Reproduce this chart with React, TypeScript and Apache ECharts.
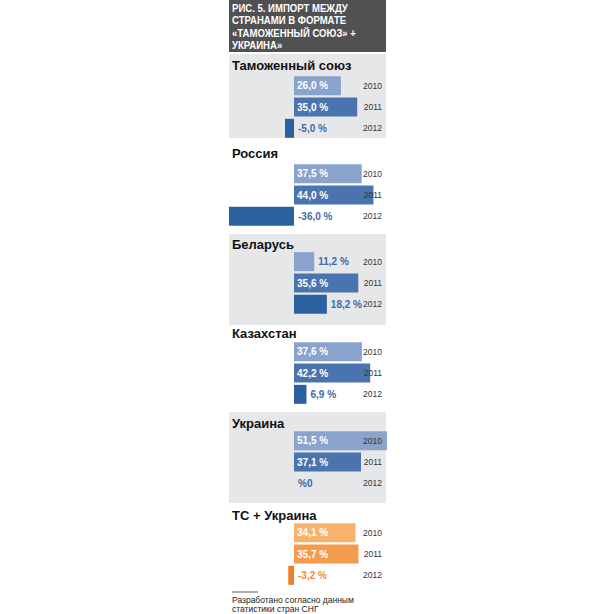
import React, { useEffect, useRef } from "react";
import * as echarts from "echarts";

const titleText = "РИС. 5. ИМПОРТ МЕЖДУ\nСТРАНАМИ В ФОРМАТЕ\n«ТАМОЖЕННЫЙ СОЮЗ» +\nУКРАИНА»";
const categories = ["Таможенный союз", "Россия", "Беларусь", "Казахстан", "Украина", "ТС + Украина"];
const years = ["2010", "2011", "2012"];
const values2010 = [26.0, 37.5, 11.2, 37.6, 51.5, 34.1];
const values2011 = [35.0, 44.0, 35.6, 42.2, 37.1, 35.7];
const values2012 = [-5.0, -36.0, 18.2, 6.9, 0, -3.2];
const footerText = "Разработано согласно данным\nстатистики стран СНГ";

const FONT = "'Liberation Sans', Arial, sans-serif";
const blueColors = ["#8aa3cc", "#4a74ae", "#2a62a0"];
const orangeColors = ["#f7b36d", "#f49c4e", "#ef7d2a"];
const blueLabel = "#3d6ba8";
const orangeLabel = "#ee8a40";

const panelTops = [54, 138, 234, 325, 412, 503];
const panelBottoms = [138, 234, 325, 412, 503, 590];
const titleY = [65, 153, 244, 333, 423, 515];
const gridTops = [75, 163, 251, 341, 430, 522];

function fmt(v: number): string {
  if (v === 0) return "%0";
  return v.toFixed(1).replace(".", ",") + " %";
}

export default function App() {
  const ref = useRef<HTMLDivElement>(null);
  useEffect(() => {
    document.body.style.margin = "0";
    const chart = echarts.init(ref.current!, null, { renderer: "svg" });
    const grids: any[] = [];
    const xAxes: any[] = [];
    const yAxes: any[] = [];
    const series: any[] = [];
    const graphics: any[] = [];

    graphics.push({
      type: "rect",
      shape: { x: 229, y: 0, width: 157, height: 52 },
      style: { fill: "#515151" },
      silent: true,
    });
    graphics.push({
      type: "text",
      x: 232,
      y: 2,
      scaleX: 0.87,
      style: {
        text: titleText,
        fill: "#ffffff",
        font: `bold 11px ${FONT}`,
        lineHeight: 12.5,
      },
    });

    categories.forEach((cat, i) => {
      if (i % 2 === 0) {
        graphics.push({
          type: "rect",
          shape: { x: 229, y: panelTops[i], width: 157, height: panelBottoms[i] - panelTops[i] },
          style: { fill: "#e6e7e8" },
          silent: true,
          z: -10,
        });
      }
      graphics.push({
        type: "text",
        x: 232,
        y: titleY[i],
        style: {
          text: cat,
          fill: "#111111",
          font: `bold 13px ${FONT}`,
          textVerticalAlign: "middle",
        },
      });

      const isOrange = i === categories.length - 1;
      const colors = isOrange ? orangeColors : blueColors;
      const outColor = isOrange ? orangeLabel : blueLabel;
      const vals = [values2010[i], values2011[i], values2012[i]];

      grids.push({ left: 229, width: 158, top: gridTops[i], height: 64 });
      xAxes.push({ type: "value", gridIndex: i, min: -36, max: 51.5, show: false });
      yAxes.push({
        type: "category",
        gridIndex: i,
        data: years,
        inverse: true,
        position: "right",
        z: 10,
        axisLine: { show: false },
        axisTick: { show: false },
        splitLine: { show: false },
        axisLabel: {
          inside: true,
          margin: 5,
          fontSize: 8.5,
          color: "#333333",
          fontFamily: FONT,
        },
      });
      series.push({
        type: "bar",
        xAxisIndex: i,
        yAxisIndex: i,
        barWidth: 19,
        data: vals.map((v, k) => {
          const inside = v > 20;
          return {
            value: v,
            itemStyle: { color: colors[k] },
            label: {
              show: true,
              position: inside ? "insideLeft" : "right",
              distance: inside ? 3 : 4,
              color: inside ? "#ffffff" : outColor,
              fontSize: 10,
              fontWeight: "bold",
              fontFamily: FONT,
              formatter: () => fmt(v),
            },
          };
        }),
      });
    });

    graphics.push({
      type: "line",
      shape: { x1: 232, y1: 592, x2: 258, y2: 592 },
      style: { stroke: "#333333", lineWidth: 0.8 },
    });
    graphics.push({
      type: "text",
      x: 232,
      y: 595,
      style: {
        text: footerText,
        fill: "#222222",
        font: `8.5px ${FONT}`,
        lineHeight: 9,
      },
    });

    chart.setOption({
      animation: false,
      grid: grids,
      xAxis: xAxes,
      yAxis: yAxes,
      series,
      graphic: graphics,
    });
    return () => chart.dispose();
  }, []);
  return <div ref={ref} style={{ width: 614, height: 614 }} />;
}
